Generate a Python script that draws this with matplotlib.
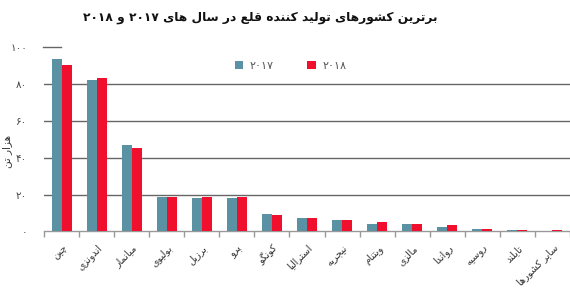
import matplotlib
matplotlib.use("Agg")
import matplotlib.pyplot as plt
import numpy as np

countries = ["چین", "اندونزی", "میانمار", "بولیوی", "برزیل", "پرو", "کونگو",
             "استرالیا", "نیجریه", "ویتنام", "مالزی", "رواندا", "روسیه",
             "تایلند", "سایر کشورها"]
values_2017 = [93.5, 82.6, 46.9, 18.7, 18.1, 18.1, 9.6, 7.2, 6.0, 4.3, 3.8, 2.5, 1.4, 0.9, 0.0]
values_2018 = [90.6, 83.3, 45.3, 18.7, 18.7, 18.7, 9.1, 7.2, 6.0, 5.4, 4.3, 3.3, 1.4, 1.0, 0.8]
series_names = ["۲۰۱۷", "۲۰۱۸"]
y_ticks = [0, 20, 40, 60, 80, 100]
title_text = "برترین کشورهای تولید کننده قلع در سال های ۲۰۱۷ و ۲۰۱۸"
ylabel_text = "هزار تن"

# --- minimal Persian shaping (presentation forms + RTL ordering) ---
FORMS = {
    'ا': (0xFE8D, 0xFE8E), 'آ': (0xFE81, 0xFE82),
    'ب': (0xFE8F, 0xFE90, 0xFE91, 0xFE92), 'پ': (0xFB56, 0xFB57, 0xFB58, 0xFB59),
    'ت': (0xFE95, 0xFE96, 0xFE97, 0xFE98), 'ث': (0xFE99, 0xFE9A, 0xFE9B, 0xFE9C),
    'ج': (0xFE9D, 0xFE9E, 0xFE9F, 0xFEA0), 'چ': (0xFB7A, 0xFB7B, 0xFB7C, 0xFB7D),
    'ح': (0xFEA1, 0xFEA2, 0xFEA3, 0xFEA4), 'خ': (0xFEA5, 0xFEA6, 0xFEA7, 0xFEA8),
    'د': (0xFEA9, 0xFEAA), 'ذ': (0xFEAB, 0xFEAC), 'ر': (0xFEAD, 0xFEAE),
    'ز': (0xFEAF, 0xFEB0), 'ژ': (0xFB8A, 0xFB8B),
    'س': (0xFEB1, 0xFEB2, 0xFEB3, 0xFEB4), 'ش': (0xFEB5, 0xFEB6, 0xFEB7, 0xFEB8),
    'ص': (0xFEB9, 0xFEBA, 0xFEBB, 0xFEBC), 'ض': (0xFEBD, 0xFEBE, 0xFEBF, 0xFEC0),
    'ط': (0xFEC1, 0xFEC2, 0xFEC3, 0xFEC4), 'ظ': (0xFEC5, 0xFEC6, 0xFEC7, 0xFEC8),
    'ع': (0xFEC9, 0xFECA, 0xFECB, 0xFECC), 'غ': (0xFECD, 0xFECE, 0xFECF, 0xFED0),
    'ف': (0xFED1, 0xFED2, 0xFED3, 0xFED4), 'ق': (0xFED5, 0xFED6, 0xFED7, 0xFED8),
    'ک': (0xFB8E, 0xFB8F, 0xFB90, 0xFB91), 'گ': (0xFB92, 0xFB93, 0xFB94, 0xFB95),
    'ل': (0xFEDD, 0xFEDE, 0xFEDF, 0xFEE0), 'م': (0xFEE1, 0xFEE2, 0xFEE3, 0xFEE4),
    'ن': (0xFEE5, 0xFEE6, 0xFEE7, 0xFEE8), 'و': (0xFEED, 0xFEEE),
    'ه': (0xFEE9, 0xFEEA, 0xFEEB, 0xFEEC), 'ی': (0xFBFC, 0xFBFD, 0xFBFE, 0xFBFF),
}


def shape_word(w):
    out = []
    i = 0
    n = len(w)
    while i < n:
        c = w[i]
        if c not in FORMS:
            out.append(c)
            i += 1
            continue
        prev = w[i - 1] if i > 0 else None
        pj = prev is not None and prev in FORMS and len(FORMS[prev]) == 4
        if c == 'ل' and i + 1 < n and w[i + 1] == 'ا':
            out.append(chr(0xFEFC if pj else 0xFEFB))
            i += 2
            continue
        f = FORMS[c]
        nxt = w[i + 1] if i + 1 < n else None
        nj = len(f) == 4 and nxt is not None and nxt in FORMS
        if pj and nj:
            out.append(chr(f[3]))
        elif pj:
            out.append(chr(f[1]))
        elif nj:
            out.append(chr(f[2]))
        else:
            out.append(chr(f[0]))
        i += 1
    return ''.join(out)


def fa(text):
    words = text.split(' ')
    vis = []
    for w in words:
        if all(ch.isdigit() for ch in w):
            vis.append(w)
        else:
            vis.append(shape_word(w)[::-1])
    return ' '.join(vis[::-1])


plt.rcParams['font.family'] = ['DejaVu Sans']

c2017 = "#5A92A4"
c2018 = "#F0102E"

fig = plt.figure(figsize=(5.70, 2.91), dpi=100)
ax = fig.add_axes([0.0772, 0.2045, 0.9228, 0.6323])

x = np.arange(len(countries))
w = 0.285
ax.bar(x - w / 2, values_2017, width=w, color=c2017, label=fa(series_names[0]), zorder=3)
ax.bar(x + w / 2, values_2018, width=w, color=c2018, label=fa(series_names[1]), zorder=3)

ax.set_xlim(-0.5, 14.32)
ax.set_ylim(0, 100)

for v in y_ticks[1:-1]:
    ax.axhline(v, color="#666666", lw=1.0, zorder=1)
ax.axhline(100, xmin=-0.002, xmax=0.032, color="#666666", lw=1.0, zorder=1, clip_on=False)

for s in ["top", "right", "left"]:
    ax.spines[s].set_visible(False)
ax.spines["bottom"].set_color("#999999")
ax.spines["bottom"].set_linewidth(1.0)

ax.set_yticks(y_ticks)
ax.set_yticklabels([fa(str(v).translate(str.maketrans("0123456789", "۰۱۲۳۴۵۶۷۸۹"))) for v in y_ticks],
                   fontsize=7.5, color="#444444")
ax.tick_params(axis="y", length=0, pad=12)

ax.set_xticks(x)
ax.set_xticklabels([fa(c) for c in countries], rotation=45, ha="right", va="top",
                   rotation_mode="anchor", fontsize=7, color="#333333")
ax.tick_params(axis="x", which="major", length=0, pad=8)
ax.set_xticks(np.arange(-0.5, 14.6, 1.0), minor=True)
ax.tick_params(axis="x", which="minor", length=4, color="#999999", width=1.0)

leg = ax.legend(loc="center", bbox_to_anchor=(0.51, 0.773), bbox_transform=fig.transFigure,
                ncol=2, frameon=False, fontsize=8, handlelength=0.75, handleheight=0.75,
                columnspacing=3.0, handletextpad=0.6, labelcolor="#555555")

fig.text(0.456, 0.94, fa(title_text), ha="center", va="center", fontsize=8.8,
         fontweight="bold", color="#111111")
fig.text(0.003, 0.48, fa(ylabel_text), ha="left", va="center", rotation=90,
         fontsize=7.5, color="#333333")

fig.savefig("out.png", dpi=100)
